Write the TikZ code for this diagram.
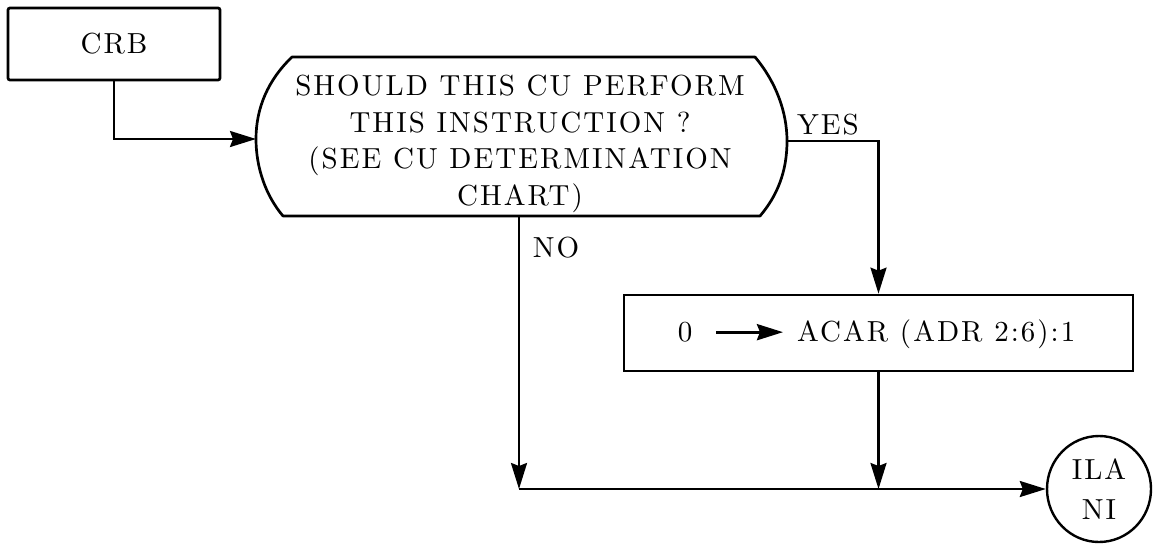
\documentclass[tikz,border=0pt]{standalone}
\usepackage{fontspec}
\setmainfont{lmroman10-regular.otf}[LetterSpace=7]
\usetikzlibrary{arrows.meta,shapes.geometric}
\begin{document}
\begin{tikzpicture}[x=1pt,y=-1pt,
  every node/.style={font=\fontsize{29}{36.5}\selectfont, inner sep=0pt},
  block/.style={draw, line width=2.7pt},
  outline/.style={line width=2.7pt, line join=round},
  tipA/.tip={Stealth[length=26pt,width=16pt,inset=3pt]},
  conn/.style={line width=2.4pt, -tipA},
  wire/.style={line width=2.4pt}]
\useasboundingbox (0,0) rectangle (1155,544);

% process box feeding the decision
\node[block, rounded corners=2pt, minimum width=212pt, minimum height=72pt] (crb) at (114,44) {CRB};

% decision: flat top and bottom, bulging sides
\coordinate (decL) at (256,139);
\coordinate (decR) at (787,141);
\coordinate (decB) at (519,216);
\draw[outline] (292,57) -- (755,57)
  .. controls (776,82) and (787,112) .. (decR)
  .. controls (787,172) and (777,196) .. (760,216)
  -- (283,216)
  .. controls (266,196) and (256,168) .. (decL)
  .. controls (256,108) and (268,80) .. cycle;
\node[align=center] (quest) at (520,144)
  {SHOULD THIS CU PERFORM\\THIS INSTRUCTION ?\\(SEE CU DETERMINATION\\CHART)};

% branch labels
\node (yes) at (828,124.5) {YES};
\node (no) at (556,248) {NO};

% action box
\node[block, minimum width=509pt, minimum height=76pt] (act) at (878.5,333) {};
\node[anchor=base] (zero) at (685,341.5) {0};
\node[anchor=base west] (acar) at (797,341.5) {ACAR (ADR 2:6):1};
\draw[line width=3.2pt, -tipA, shorten <=24pt, shorten >=14pt] (zero.east) -- (zero.east -| acar.west);

% connector end
\node[draw, ellipse, line width=2.4pt, minimum width=104pt, minimum height=106pt, align=center] (ila) at (1099,489) {ILA\\[3.5pt]NI};

% junctions on the collecting line
\coordinate (j1) at (519,489);
\coordinate (j2) at (act.south |- j1);

% connectors
\draw[conn] (crb.south) |- (decL);
\draw[conn] (decR) -| (act.north);
\draw[conn] (decB) -- (j1);
\draw[conn] (act.south) -- (j2);
\draw[conn] (j1) -- (ila.west);
\end{tikzpicture}
\end{document}
